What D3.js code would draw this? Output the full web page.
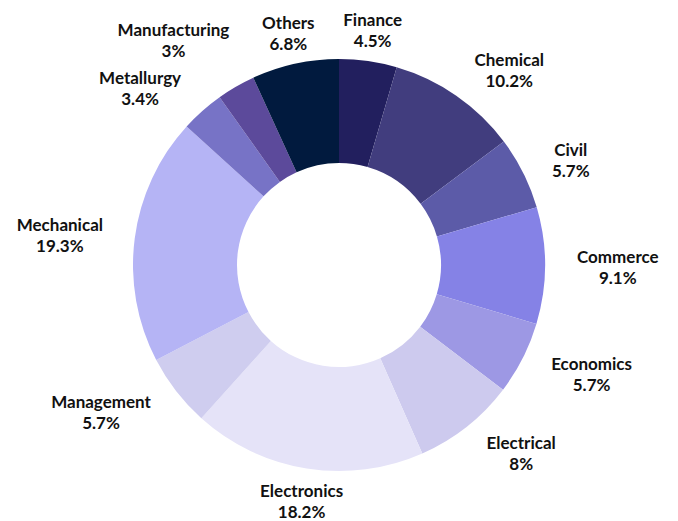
<!DOCTYPE html>
<html>
<head>
<meta charset="utf-8">
<script src="https://cdn.jsdelivr.net/npm/d3@7"></script>
<style>
  body { margin: 0; background: #fff; }
  text { font-family: Lato, sans-serif; font-weight: 700; font-size: 17px; fill: #111; }
</style>
</head>
<body>
<div id="chart"></div>
<script>
const categories = ["Finance", "Chemical", "Civil", "Commerce", "Economics", "Electrical",
  "Electronics", "Management", "Mechanical", "Metallurgy", "Manufacturing", "Others"];
const shares = [4.5, 10.2, 5.7, 9.1, 5.7, 8, 18.2, 5.7, 19.3, 3.4, 3, 6.8];
const pctLabels = ["4.5%", "10.2%", "5.7%", "9.1%", "5.7%", "8%", "18.2%", "5.7%", "19.3%", "3.4%", "3%", "6.8%"];
const colors = ["#221f5e", "#413d7e", "#5c5ba8", "#8582e6", "#9d98e4", "#cdcaee",
  "#e5e3f8", "#cfcdef", "#b5b4f5", "#7773c6", "#5c4a9b", "#011a3e"];

const width = 678, height = 521;
const cx = 339, cy = 265;
const outerR = 206, innerR = 102, labelR = 238;

const svg = d3.select("#chart").append("svg")
  .attr("width", width)
  .attr("height", height);

const g = svg.append("g").attr("transform", "translate(" + cx + "," + cy + ")");

const data = categories.map((c, i) => ({ name: c, value: shares[i], pct: pctLabels[i], color: colors[i] }));

const pie = d3.pie().value(d => d.value).sort(null);
const arc = d3.arc().innerRadius(innerR).outerRadius(outerR);
const arcs = pie(data);

g.selectAll("path.slice")
  .data(arcs)
  .enter().append("path")
  .attr("class", "slice")
  .attr("d", arc)
  .attr("fill", d => d.data.color);

// labels sit at the mid-angle, pushed sideways by half their width on the flanks
const labels = g.selectAll("g.lbl")
  .data(arcs)
  .enter().append("g")
  .attr("class", "lbl");

labels.append("text")
  .attr("text-anchor", "middle")
  .attr("y", -10)
  .text(d => d.data.name);
labels.append("text")
  .attr("text-anchor", "middle")
  .attr("y", 11)
  .text(d => d.data.pct);

const boxes = [];
const lineH = 48;
labels.each(function(d) {
  const node = d3.select(this);
  const w = d3.max(node.selectAll("text").nodes(), t => t.getComputedTextLength());
  const a = (d.startAngle + d.endAngle) / 2;
  const s = Math.sin(a), c = Math.cos(a);
  const push = Math.max(0, Math.min(1, (Math.abs(s) - 0.25) / 0.3));
  let x = labelR * s + Math.sign(s) * push * w / 2;
  let y = -labelR * c + 7;
  // nudge away from the previous label if they collide
  const prev = boxes[boxes.length - 1];
  if (prev && Math.abs(prev.x - x) < (prev.w + w) / 2 && Math.abs(prev.y - y) < lineH) {
    y = y < 0 ? prev.y - lineH : prev.y + lineH;
  }
  boxes.push({ x: x, y: y, w: w });
  node.attr("transform", "translate(" + x + "," + y + ")");
});
</script>
</body>
</html>
